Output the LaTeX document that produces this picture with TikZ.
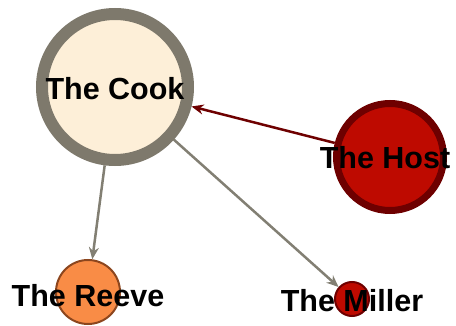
\documentclass[tikz,border=0pt]{standalone}
\usepackage{fontspec}
\setmainfont{Liberation Sans}
\usetikzlibrary{arrows.meta}
\definecolor{cookfill}{RGB}{253,239,216}
\definecolor{cookline}{RGB}{126,121,108}
\definecolor{hostfill}{RGB}{190,10,0}
\definecolor{hostline}{RGB}{110,0,0}
\definecolor{reevefill}{RGB}{249,140,70}
\definecolor{reeveline}{RGB}{140,70,30}
\definecolor{edgegray}{RGB}{130,127,115}
\tikzset{
  vertex/.style={circle, draw, inner sep=0pt},
  lbl/.style={font=\bfseries\fontsize{30.5}{31}\selectfont, text=black, inner sep=0pt},
  grayedge/.style={draw=edgegray, line width=2.5pt, -{Stealth[length=12pt,width=10pt]}},
  rededge/.style={draw=hostline, line width=2.5pt, -{Stealth[length=12pt,width=10pt]}}
}
\begin{document}
\begin{tikzpicture}[x=1pt,y=-1pt]
\useasboundingbox (0,0) rectangle (456,326);
\node[vertex, fill=cookfill, draw=cookline, line width=12pt, minimum size=146pt] (cook) at (115,87) {};
\node[vertex, fill=hostfill, draw=hostline, line width=7pt, minimum size=107pt] (host) at (390,157) {};
\node[vertex, fill=reevefill, draw=reeveline, line width=2pt, minimum size=64pt] (reeve) at (88,292) {};
\node[vertex, fill=hostfill, draw=hostline, line width=2pt, minimum size=34pt] (miller) at (352,299) {};
\draw[rededge] (host) -- (cook);
\draw[grayedge] (cook) -- (reeve);
\draw[grayedge] (cook) -- (miller);
\node[lbl] (cooklbl) at (115,89) {The Cook};
\node[lbl] (hostlbl) at (385,158) {The Host};
\node[lbl] (reevelbl) at (88,296) {The Reeve};
\node[lbl] (millerlbl) at (352,301) {The Miller};
\end{tikzpicture}
\end{document}
